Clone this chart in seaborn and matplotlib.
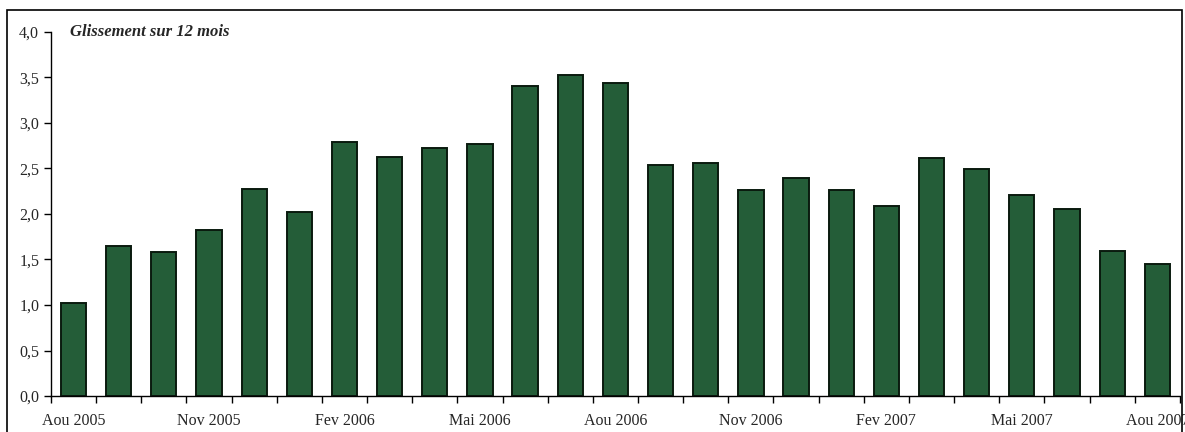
import seaborn as sns
import matplotlib.pyplot as plt
import pandas as pd
from matplotlib.patches import Rectangle
from matplotlib.ticker import FuncFormatter, MultipleLocator

months = ["Aou 2005", "Sep 2005", "Oct 2005", "Nov 2005", "Dec 2005",
          "Jan 2006", "Fev 2006", "Mar 2006", "Avr 2006", "Mai 2006",
          "Jun 2006", "Jul 2006", "Aou 2006", "Sep 2006", "Oct 2006",
          "Nov 2006", "Dec 2006", "Jan 2007", "Fev 2007", "Mar 2007",
          "Avr 2007", "Mai 2007", "Jun 2007", "Jul 2007", "Aou 2007"]
values = [1.02, 1.65, 1.58, 1.82, 2.27, 2.02, 2.79, 2.63, 2.72, 2.77,
          3.41, 3.53, 3.44, 2.54, 2.56, 2.26, 2.39, 2.26, 2.09, 2.61,
          2.49, 2.21, 2.06, 1.59, 1.45]

df = pd.DataFrame({"mois": months, "glissement": values})

sns.set_style("white")
plt.rcParams['font.family'] = ['Liberation Serif', 'DejaVu Serif']

fig = plt.figure(figsize=(11.85, 4.32), dpi=100)
ax = fig.add_axes([0.043, 0.0833, 0.9527, 0.8427])

sns.barplot(data=df, x="mois", y="glissement", order=months, color="#245d38",
            saturation=1, width=0.56, edgecolor="#0a1a0e", linewidth=1.4, ax=ax)

ax.set_xlim(-0.5, len(months) - 0.5)
ax.set_ylim(0, 4.0)
ax.yaxis.set_major_locator(MultipleLocator(0.5))
ax.yaxis.set_major_formatter(FuncFormatter(lambda v, p: f"{v:.1f}".replace(".", ",")))

# labels every 3 months, tick marks between categories
label_pos = list(range(0, len(months), 3))
ax.set_xticks(label_pos)
ax.set_xticklabels([months[i] for i in label_pos])
ax.set_xticks([i - 0.5 for i in range(len(months) + 1)], minor=True)
ax.tick_params(axis="x", which="major", length=0, pad=12, labelsize=11.5)
ax.tick_params(axis="x", which="minor", length=5, width=1, direction="out", color="black")
ax.tick_params(axis="y", length=5, width=1, direction="out", labelsize=11.5, color="black")
ax.tick_params(bottom=True, left=True, which="both")

ax.set_xlabel("")
ax.set_ylabel("")
for s in ["top", "right"]:
    ax.spines[s].set_visible(False)
for s in ["left", "bottom"]:
    ax.spines[s].set_color("black")
    ax.spines[s].set_linewidth(1)

ax.text(-0.08, 4.0, "Glissement sur 12 mois", fontsize=12, fontweight="bold",
        fontstyle="italic", va="center", ha="left")

# outer frame around the chart
fig.patches.append(Rectangle((7 / 1185, -0.05), 1175 / 1185, (432 - 10) / 432 + 0.05,
                             transform=fig.transFigure, fill=False,
                             edgecolor="black", linewidth=1.2))

plt.savefig("out.png", dpi=100)
plt.close()
